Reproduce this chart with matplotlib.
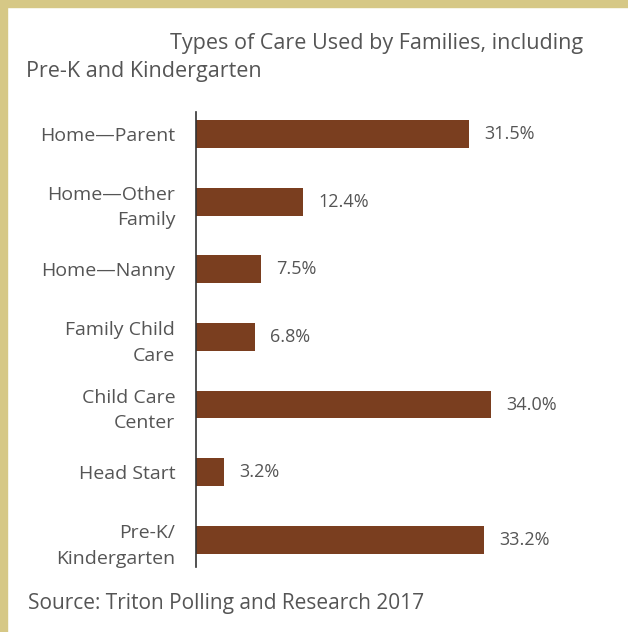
import matplotlib
matplotlib.use("Agg")
import matplotlib.pyplot as plt
from matplotlib.patches import Rectangle

categories = ["Home\u2014Parent", "Home\u2014Other\nFamily", "Home\u2014Nanny",
              "Family Child\nCare", "Child Care\nCenter", "Head Start",
              "Pre-K/\nKindergarten"]
values = [31.5, 12.4, 7.5, 6.8, 34.0, 3.2, 33.2]
value_labels = ["31.5%", "12.4%", "7.5%", "6.8%", "34.0%", "3.2%", "33.2%"]

plt.rcParams['font.family'] = ['Open Sans', 'DejaVu Sans']
W, H = 628, 632
fig = plt.figure(figsize=(W / 100, H / 100), dpi=100)
fig.patch.set_facecolor("white")

border = "#D6C886"
fig.add_artist(Rectangle((0, 1 - 7 / H), 1, 7 / H, transform=fig.transFigure,
                         color=border, zorder=0))
fig.add_artist(Rectangle((0, 0), 7 / W, 1, transform=fig.transFigure,
                         color=border, zorder=0))

ax = fig.add_axes([196 / W, (H - 567) / H, 350 / W, (567 - 112) / H])
bar_color = "#7A3E1F"
text_color = "#555555"
ypos = list(range(len(values)))
ax.barh(ypos, values, height=0.41, color=bar_color)
ax.set_xlim(0, 350 / 8.667)
ax.set_ylim(6.4, -0.325)
ax.set_yticks(ypos)
ax.set_yticklabels(categories, fontsize=14, color=text_color,
                   linespacing=1.55, ha="right")
ax.tick_params(axis="y", length=0, pad=15)
ax.set_xticks([])
for s in ["top", "right", "bottom"]:
    ax.spines[s].set_visible(False)
ax.spines["left"].set_color("#333333")
ax.spines["left"].set_linewidth(1.2)
ax.patch.set_alpha(0)

for y, v, lab in zip(ypos, values, value_labels):
    ax.annotate(lab, (v, y), xytext=(11, 0), textcoords="offset points",
                va="center", ha="left", fontsize=13, color=text_color)

fig.text(583 / W, 1 - 43 / H, "Types of Care Used by Families, including",
         ha="right", va="center", fontsize=15.5, color=text_color)
fig.text(26 / W, 1 - 71 / H, "Pre-K and Kindergarten",
         ha="left", va="center", fontsize=15.5, color=text_color)
fig.text(28 / W, 1 - 603 / H, "Source: Triton Polling and Research 2017",
         ha="left", va="center", fontsize=15, color=text_color)

fig.savefig("out.png", dpi=100, facecolor="white")
